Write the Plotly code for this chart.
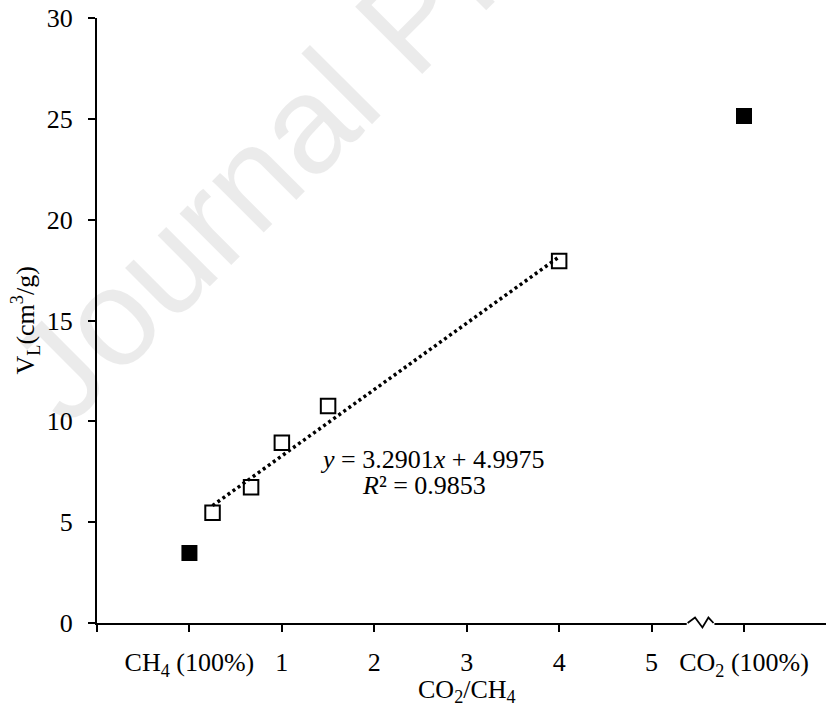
import plotly.graph_objects as go

# ---- data ----
tick_positions = [-1, 0, 1, 2, 3, 4, 5, 6]
tick_labels = ["", "CH<sub>4</sub> (100%)", "1", "2", "3", "4", "5", "CO<sub>2</sub> (100%)"]

pure_gas_x = [0, 6]            # pure CH4 and pure CO2
pure_gas_vl = [3.47, 25.14]

mix_ratio = [0.25, 0.667, 1.0, 1.5, 4.0]   # CO2/CH4 ratio
mix_vl = [5.47, 6.73, 8.94, 10.76, 17.95]

fit_slope = 3.2901
fit_intercept = 4.9975
fit_r2 = 0.9853

SERIF = "Liberation Serif"
FS = 26

X_RANGE = [-1, 6.887]
Y_RANGE = [0, 30]


def to_paper(x, y):
    """Convert axis coordinates to paper coordinates (for unclipped shapes)."""
    px = (x - X_RANGE[0]) / (X_RANGE[1] - X_RANGE[0])
    py = (y - Y_RANGE[0]) / (Y_RANGE[1] - Y_RANGE[0])
    return px, py


fig = go.Figure()

# linear fit over the mixture points
fit_x = [min(mix_ratio), max(mix_ratio)]
fit_y = [fit_slope * v + fit_intercept for v in fit_x]
fig.add_trace(go.Scatter(
    x=fit_x, y=fit_y, mode="lines",
    line=dict(color="black", width=3.5, dash="3px,3.2px"),
    showlegend=False, hoverinfo="skip",
))

fig.add_trace(go.Scatter(
    x=mix_ratio, y=mix_vl, mode="markers",
    marker=dict(symbol="square-open", size=14.5, color="black",
                line=dict(width=2, color="black")),
    showlegend=False,
))

fig.add_trace(go.Scatter(
    x=pure_gas_x, y=pure_gas_vl, mode="markers",
    marker=dict(symbol="square", size=16, color="black", line=dict(width=0)),
    showlegend=False,
))

axis_common = dict(
    showline=True, linecolor="black", linewidth=2,
    ticks="outside", ticklen=7, tickwidth=2, tickcolor="black",
    showgrid=False, zeroline=False, mirror=False,
    tickfont=dict(family=SERIF, size=FS, color="black"),
)

fig.update_xaxes(
    range=X_RANGE, tickmode="array", tickvals=tick_positions,
    ticktext=tick_labels, ticklabelstandoff=8, **axis_common,
)
fig.update_yaxes(
    range=Y_RANGE, tickmode="linear", tick0=0, dtick=5,
    ticklabelstandoff=10, **axis_common,
)

# axis break mark between 5 and pure CO2
gap_a = to_paper(5.38, 0)
gap_b = to_paper(5.68, 0)
fig.add_shape(type="line", xref="paper", yref="paper",
              x0=gap_a[0], x1=gap_b[0], y0=0, y1=0,
              line=dict(color="white", width=4), layer="above")
zig = [to_paper(x, y) for x, y in
       [(5.39, 0), (5.47, 0.27), (5.55, -0.22), (5.615, 0.27), (5.67, 0)]]
zig_path = "M " + " L ".join(f"{px:.5f},{py:.5f}" for px, py in zig)
fig.add_shape(type="path", xref="paper", yref="paper", path=zig_path,
              line=dict(color="black", width=1.8), layer="above")

annotations = [
    dict(text="CO<sub>2</sub>/CH<sub>4</sub>", x=3, xref="x", y=0, yref="paper",
         yshift=-68, yanchor="middle", xanchor="center", showarrow=False,
         font=dict(family=SERIF, size=FS, color="black")),
    dict(text="V<sub>L</sub>(cm<sup>3</sup>/g)", x=0, xref="paper", y=0.5, yref="paper",
         xshift=-72, xanchor="center", yanchor="middle", textangle=-90, showarrow=False,
         font=dict(family=SERIF, size=FS, color="black")),
    dict(text=f"<i>y</i> = {fit_slope}<i>x</i> + {fit_intercept}", x=2.624, y=8.1,
         xref="x", yref="y", showarrow=False, xanchor="center", yanchor="middle",
         font=dict(family=SERIF, size=FS, color="black")),
    dict(text=f"<i>R</i>² = {fit_r2}", x=2.538, y=6.82,
         xref="x", yref="y", showarrow=False, xanchor="center", yanchor="middle",
         font=dict(family=SERIF, size=FS, color="black")),
    dict(text="Journal Pre-proof", x=0.43, y=1.0, xref="paper", yref="paper",
         showarrow=False, xanchor="center", yanchor="middle", textangle=-45,
         font=dict(family="Liberation Sans", size=138, color="rgba(0,0,0,0.08)")),
]

fig.update_layout(
    width=826, height=706,
    margin=dict(l=97, r=0, t=18, b=83),
    paper_bgcolor="white", plot_bgcolor="white",
    annotations=annotations,
    showlegend=False,
)

fig.write_html("out.html")
